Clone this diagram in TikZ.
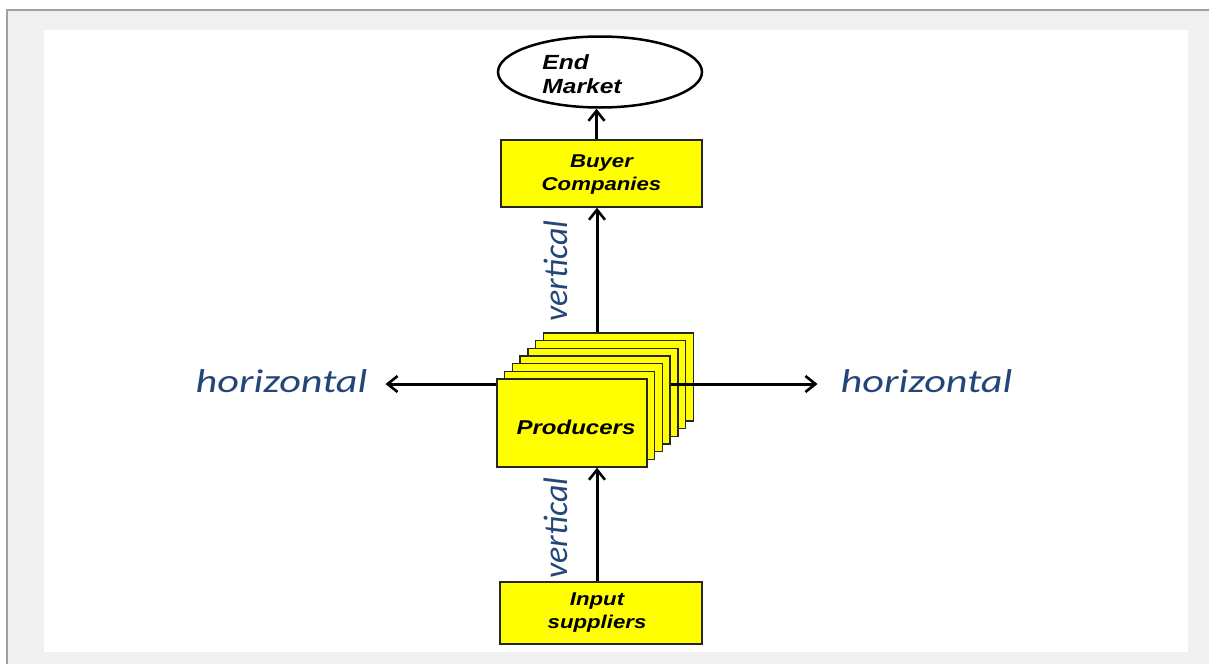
\documentclass[tikz,border=0pt]{standalone}
\usepackage{fontspec}
\usetikzlibrary{arrows.meta,shapes.geometric,calc}
\newfontfamily\boxfont[FakeStretch=1.2]{Liberation Sans}
\newfontfamily\labfont[FakeStretch=1.28]{Carlito}
\newfontfamily\vlabfont{Carlito}
\definecolor{bggray}{HTML}{F0F0F0}
\definecolor{framegray}{HTML}{A0A0A0}
\definecolor{labblue}{RGB}{35,70,120}
\definecolor{boxyellow}{HTML}{FFFF00}
\tikzset{
  ybox/.style={draw=black!85, line width=1.4pt, fill=boxyellow, inner sep=0pt},
  boxtext/.style={font=\boxfont\bfseries\itshape\fontsize{18.5}{23}\selectfont, align=center, text=black},
  lab/.style={font=\labfont\itshape\fontsize{33}{36}\selectfont, text=labblue, inner sep=0pt},
  vlab/.style={font=\vlabfont\itshape\fontsize{34}{36}\selectfont, text=labblue, inner sep=0pt, rotate=90},
  arr/.style={line width=3pt, -{Straight Barb[length=10pt,width=16pt,line width=2.6pt]}},
}
\begin{document}
\begin{tikzpicture}[x=1pt,y=-1pt]
\useasboundingbox (0,0) rectangle (1209,664);
% background and frame
\fill[white] (0,0) rectangle (1209,664);
\fill[bggray] (8,10) rectangle (1209,664);
\draw[framegray, line width=2pt] (7,664) -- (7,10) -- (1209,10);
\fill[white] (44,30) rectangle (1188,652);

% End market
\node[draw=black, line width=2.5pt, ellipse, minimum width=204pt, minimum height=71pt, inner sep=0pt] (market) at (600,72) {};
\node[boxtext, font=\boxfont\bfseries\itshape\fontsize{20.5}{24}\selectfont, align=left, anchor=center] (markettext) at ([xshift=-18pt,yshift=-2pt]market.center) {End\\Market};

% Buyer companies
\node[ybox, minimum width=201pt, minimum height=67pt] (buyer) at (601.5,173.5) {};
\node[boxtext] (buyertext) at ([yshift=-1pt]buyer.center) {Buyer\\Companies};

% Producers stack
\foreach \k in {6,5,4,3,2,1,0}{
  \node[ybox, minimum width=150pt, minimum height=88pt] (p\k) at ({572+7.7*\k},{423-7.7*\k}) {};
}
\node[boxtext, font=\boxfont\bfseries\itshape\fontsize{20}{23}\selectfont] (prodtext) at ([xshift=4pt,yshift=-4pt]p0.center) {Producers};

% Input suppliers
\node[ybox, minimum width=202pt, minimum height=62pt] (input) at (601,613) {};
\node[boxtext] (inputtext) at ([xshift=-4pt]input.center) {Input\\suppliers};

% labels
\node[lab] (hleft) at (281.5,381) {horizontal};
\node[lab] (hright) at (926.5,381) {horizontal};
\node[vlab] (vup) at (556,271) {vertical};
\node[vlab] (vdown) at (556,528) {vertical};

% connectors
\coordinate (hy) at (0,384);
\draw[arr] (p0.west |- hy) -- ([xshift=18pt]hleft.east |- hy);
\draw[arr] (p3.east |- hy) -- ([xshift=-23pt]hright.west |- hy);
\draw[arr] ([xshift=-4.5pt]buyer.south |- p6.north) -- ([xshift=-4.5pt]buyer.south);
\draw[arr] ([xshift=-4pt]input.north) -- ([xshift=-4pt]input.north |- p0.south);
\draw[arr] ([xshift=-5pt]buyer.north) -- ([xshift=-5pt]buyer.north |- market.south);
\end{tikzpicture}
\end{document}
